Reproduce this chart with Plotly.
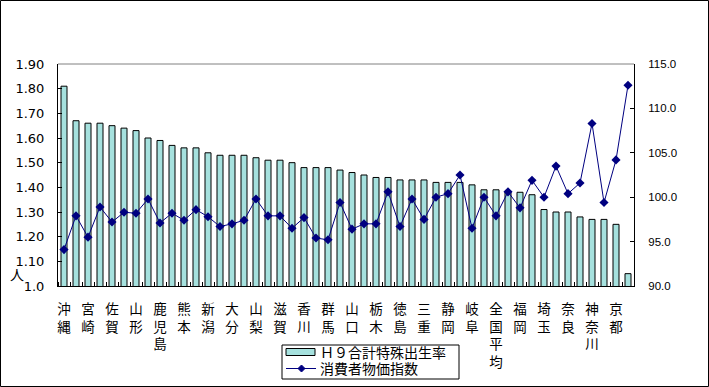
import plotly.graph_objects as go

# ---- data ----
tfr = [1.81, 1.67, 1.66, 1.66, 1.65, 1.64, 1.63, 1.60, 1.59, 1.57,
       1.56, 1.56, 1.54, 1.53, 1.53, 1.53, 1.52, 1.51, 1.51, 1.50,
       1.48, 1.48, 1.48, 1.47, 1.46, 1.45, 1.44, 1.44, 1.43, 1.43,
       1.43, 1.42, 1.42, 1.42, 1.41, 1.39, 1.39, 1.38, 1.38, 1.37,
       1.31, 1.30, 1.30, 1.28, 1.27, 1.27, 1.25, 1.05]
cpi = [94.1, 97.9, 95.5, 98.9, 97.2, 98.3, 98.2, 99.8, 97.1, 98.2,
       97.4, 98.6, 97.8, 96.7, 97.0, 97.4, 99.8, 97.9, 97.9, 96.5,
       97.7, 95.4, 95.2, 99.4, 96.4, 97.0, 97.0, 100.6, 96.7, 99.8,
       97.5, 100.0, 100.4, 102.5, 96.5, 100.0, 97.9, 100.6, 98.8, 101.9,
       100.0, 103.5, 100.4, 101.6, 108.3, 99.4, 104.2, 112.6]
# labels shown on every other category
shown_labels = ["沖縄", "宮崎", "佐賀", "山形", "鹿児島", "熊本", "新潟", "大分",
                "山梨", "滋賀", "香川", "群馬", "山口", "栃木", "徳島", "三重",
                "静岡", "岐阜", "全国平均", "福岡", "埼玉", "奈良", "神奈川", "京都"]
left_ticks = [1.0, 1.1, 1.2, 1.3, 1.4, 1.5, 1.6, 1.7, 1.8, 1.9]
left_ticktext = ["1.0", "1.10", "1.20", "1.30", "1.40", "1.50", "1.60", "1.70", "1.80", "1.90"]
right_ticks = [90, 95, 100, 105, 110, 115]
series_names = ["Ｈ９合計特殊出生率", "消費者物価指数"]
y_unit = "人"

# ---- layout geometry ----
W, H = 709, 387
L, R, T, B = 58, 75, 64, 101
PW, PH = W - L - R, H - T - B

def px(x):
    return (x - L) / PW

def py(y):
    return (H - B - y) / PH

BAR_COLOR = "#A6E1DE"
LINE_COLOR = "#000080"
NUM_FONT_L = "DejaVu Sans"
NUM_FONT_R = "Liberation Sans"
JP_FONT = "Noto Sans CJK JP"

n = len(tfr)
xs = list(range(1, n + 1))

fig = go.Figure()
fig.add_trace(go.Bar(
    x=xs, y=tfr, name=series_names[0], width=0.5,
    marker=dict(color=BAR_COLOR, line=dict(color="black", width=1)),
    showlegend=False,
))
fig.add_trace(go.Scatter(
    x=xs, y=cpi, name=series_names[1], yaxis="y2", mode="lines+markers",
    line=dict(color=LINE_COLOR, width=1),
    marker=dict(symbol="diamond", size=7, color=LINE_COLOR),
    showlegend=False,
))

tickvals = xs[0::2]
ticktext = ["<br>".join(list(s)) for s in shown_labels]

fig.update_layout(
    width=W, height=H,
    margin=dict(l=L, r=R, t=T, b=B, pad=0, autoexpand=False),
    paper_bgcolor="white", plot_bgcolor="white",
    font=dict(family=JP_FONT, color="black"),
    xaxis=dict(
        range=[0.5, n + 0.5], tickmode="array", tickvals=tickvals, ticktext=ticktext,
        ticks="", showgrid=False, zeroline=False, automargin=False,
        showline=True, linecolor="black", linewidth=1,
        tickfont=dict(family=JP_FONT, size=13.5, color="black"),
        ticklabelstandoff=11,
        minor=dict(tickmode="array", tickvals=[i + 0.5 for i in range(0, n + 1)],
                   ticks="inside", ticklen=4, tickcolor="black", tickwidth=1, showgrid=False),
    ),
    yaxis=dict(
        range=[1.0, 1.9], tickmode="array", tickvals=left_ticks, ticktext=left_ticktext,
        ticks="inside", ticklen=4, tickcolor="black", showgrid=False, zeroline=False,
        showline=True, linecolor="black", linewidth=1, automargin=False,
        tickfont=dict(family=NUM_FONT_L, size=13, color="black"),
        ticklabelstandoff=10,
    ),
    yaxis2=dict(
        range=[90, 115], overlaying="y", side="right", tickmode="array",
        tickvals=right_ticks, ticktext=[f"{v:.1f}" for v in right_ticks],
        ticks="inside", ticklen=4, tickcolor="black", showgrid=False, zeroline=False,
        showline=True, linecolor="black", linewidth=1, automargin=False,
        tickfont=dict(family=NUM_FONT_R, size=11.5, color="black"),
        ticklabelstandoff=11,
    ),
)

shapes = []
# top border of plot area (grey)
shapes.append(dict(type="line", xref="paper", yref="paper", x0=0, x1=1, y0=1, y1=1,
                   line=dict(color="#808080", width=1)))
# outer chart border
shapes.append(dict(type="rect", xref="paper", yref="paper",
                   x0=px(0.5), x1=px(W - 0.5), y0=py(H - 0.5), y1=py(0.5),
                   line=dict(color="black", width=1), layer="below"))
# custom legend
lg_x0, lg_x1, lg_y0, lg_y1 = 282, 459, 345, 379
shapes.append(dict(type="rect", xref="paper", yref="paper",
                   x0=px(lg_x0), x1=px(lg_x1), y0=py(lg_y1), y1=py(lg_y0),
                   line=dict(color="black", width=1), fillcolor="white"))
row1, row2 = 352, 368.5
shapes.append(dict(type="rect", xref="paper", yref="paper",
                   x0=px(286), x1=px(315), y0=py(row1 + 3.5), y1=py(row1 - 3.5),
                   line=dict(color="black", width=1), fillcolor=BAR_COLOR))
shapes.append(dict(type="line", xref="paper", yref="paper",
                   x0=px(286), x1=px(316), y0=py(row2), y1=py(row2),
                   line=dict(color=LINE_COLOR, width=1)))
shapes.append(dict(type="path", xref="paper", yref="paper",
                   xsizemode="pixel", ysizemode="pixel",
                   xanchor=px(301.5), yanchor=py(row2),
                   path="M0,-3.5 L3.5,0 L0,3.5 L-3.5,0 Z",
                   fillcolor=LINE_COLOR, line=dict(color=LINE_COLOR, width=1)))
fig.update_layout(shapes=shapes)

annotations = [
    dict(text=series_names[0], x=px(318), y=py(row1), xref="paper", yref="paper",
         xanchor="left", yanchor="middle", showarrow=False,
         font=dict(family=JP_FONT, size=14, color="black")),
    dict(text=series_names[1], x=px(318), y=py(row2), xref="paper", yref="paper",
         xanchor="left", yanchor="middle", showarrow=False,
         font=dict(family=JP_FONT, size=14, color="black")),
    dict(text=y_unit, x=px(17), y=py(274), xref="paper", yref="paper",
         xanchor="center", yanchor="middle", showarrow=False,
         font=dict(family=JP_FONT, size=14, color="black")),
]
fig.update_layout(annotations=annotations)

fig.write_html("out.html", config={"displayModeBar": False},
               post_script="document.body.style.margin='0';document.body.style.overflow='hidden';")
